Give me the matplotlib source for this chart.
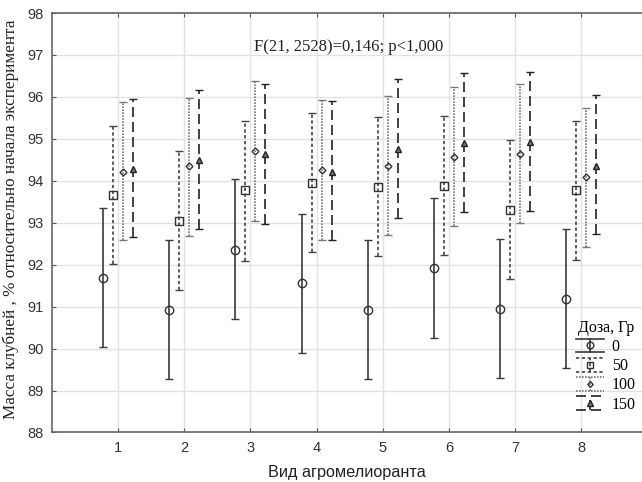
import matplotlib
matplotlib.use("Agg")
import matplotlib.pyplot as plt
import numpy as np
from matplotlib.legend_handler import HandlerBase
from matplotlib.lines import Line2D

groups = [1, 2, 3, 4, 5, 6, 7, 8]
doses = ["0", "50", "100", "150"]

mean_0 = [91.68, 90.91, 92.36, 91.56, 90.91, 91.92, 90.95, 91.19]
low_0 = [90.04, 89.27, 90.70, 89.90, 89.27, 90.26, 89.31, 89.54]
high_0 = [93.35, 92.58, 94.04, 93.22, 92.58, 93.58, 92.62, 92.84]

mean_50 = [93.67, 93.05, 93.77, 93.95, 93.85, 93.88, 93.31, 93.78]
low_50 = [92.01, 91.40, 92.10, 92.30, 92.20, 92.24, 91.67, 92.12]
high_50 = [95.30, 94.71, 95.43, 95.61, 95.51, 95.54, 94.97, 95.43]

mean_100 = [94.21, 94.35, 94.71, 94.25, 94.36, 94.57, 94.65, 94.08]
low_100 = [92.58, 92.68, 93.04, 92.60, 92.70, 92.92, 93.00, 92.42]
high_100 = [95.88, 95.98, 96.37, 95.92, 96.02, 96.23, 96.31, 95.73]

mean_150 = [94.28, 94.49, 94.63, 94.21, 94.77, 94.91, 94.93, 94.36]
low_150 = [92.65, 92.84, 92.98, 92.58, 93.12, 93.25, 93.28, 92.74]
high_150 = [95.95, 96.16, 96.30, 95.90, 96.43, 96.58, 96.60, 96.04]

means = [mean_0, mean_50, mean_100, mean_150]
lows = [low_0, low_50, low_100, low_150]
highs = [high_0, high_50, high_100, high_150]

offsets = [-0.227, -0.076, 0.076, 0.227]
styles = [
    dict(color="#3a3a3a", ls="solid", marker="o", ms=6, mfc="none", mec="#333333"),
    dict(color="#444444", ls=(0, (2.0, 1.5)), marker="s", ms=5.5, mfc="none", mec="#333333"),
    dict(color="#777777", ls=(0, (1.0, 0.8)), marker="D", ms=3.5, mfc="none", mec="#333333"),
    dict(color="#222222", ls=(0, (6.0, 3.0)), marker="^", ms=5.0, mfc="#777777", mec="#222222"),
]


class ErrHandle:
    def __init__(self, st):
        self.st = st


class ErrHandler(HandlerBase):
    def create_artists(self, legend, orig, xdescent, ydescent, width, height, fontsize, trans):
        st = orig.st
        x0, x1 = -xdescent, -xdescent + width
        y0, y1 = -ydescent, -ydescent + height
        xc, yc = (x0 + x1) / 2, (y0 + y1) / 2
        arts = [
            Line2D([x0, x1], [y1, y1], color=st["color"], ls=st["ls"], lw=1.2),
            Line2D([x0, x1], [y0, y0], color=st["color"], ls=st["ls"], lw=1.2),
            Line2D([xc, xc], [y0, y1], color=st["color"], ls=st["ls"], lw=1.2),
            Line2D([xc], [yc], marker=st["marker"], ms=st["ms"] * 0.8, mfc=st["mfc"],
                   mec=st["mec"], mew=1.0, ls="none"),
        ]
        for a in arts:
            a.set_transform(trans)
        return arts


fig = plt.figure(figsize=(6.42, 4.82), dpi=100)
ax = fig.add_axes([0.081, 0.1027, 0.919, 0.8703])

x = np.array(groups, dtype=float)
handles = []
for i, d in enumerate(doses):
    m = np.array(means[i])
    lo = m - np.array(lows[i])
    hi = np.array(highs[i]) - m
    st = styles[i]
    cont = ax.errorbar(x + offsets[i], m, yerr=[lo, hi], fmt=st["marker"], ms=st["ms"],
                       mfc=st["mfc"], mec=st["mec"], mew=1.0, ecolor=st["color"],
                       elinewidth=1.2, capsize=3, capthick=1.2, zorder=3)
    cont[2][0].set_linestyle(st["ls"])
    handles.append(ErrHandle(st))

ax.set_xlim(0, 8.92)
ax.set_ylim(88, 98)
ax.set_xticks(groups)
ax.set_yticks(np.arange(88, 99, 1))
ax.grid(True, color="#e2e2e2", lw=1.0, zorder=0)
ax.set_axisbelow(True)

for s in ["top", "left", "bottom"]:
    ax.spines[s].set_color("#666666")
    ax.spines[s].set_linewidth(1.2)
ax.spines["right"].set_visible(False)
ax.tick_params(axis="both", direction="in", length=3, color="#555555",
               labelsize=10.5, labelcolor="#333333", top=True, pad=6)
for lab in ax.get_xticklabels() + ax.get_yticklabels():
    lab.set_family("Liberation Sans")

ax.set_xlabel("Вид агромелиоранта", family="Liberation Sans", fontsize=11.7, color="#222222", labelpad=7)
ax.set_ylabel("Масса клубней , % относительно начала эксперимента", family="Liberation Serif",
              fontsize=12.3, color="#222222")
ax.yaxis.set_label_coords(-0.056, 0.508)

ax.text(0.502, 0.92, "F(21, 2528)=0,146; p<1,000", transform=ax.transAxes, ha="center", va="center",
        family="Liberation Serif", fontsize=12, color="#222222")

leg = ax.legend(handles, doses, handler_map={ErrHandle: ErrHandler()},
                title="Доза, Гр", loc="lower right", bbox_to_anchor=(1.0, 0.032), frameon=False,
                prop={"family": "Liberation Serif", "size": 11.5}, handlelength=1.7,
                handleheight=0.95, handletextpad=0.5, labelspacing=0.18, borderaxespad=0.2,
                borderpad=0.2)
leg.get_title().set_family("Liberation Serif")
leg.get_title().set_fontsize(11.5)

fig.savefig("out.png", dpi=100)
